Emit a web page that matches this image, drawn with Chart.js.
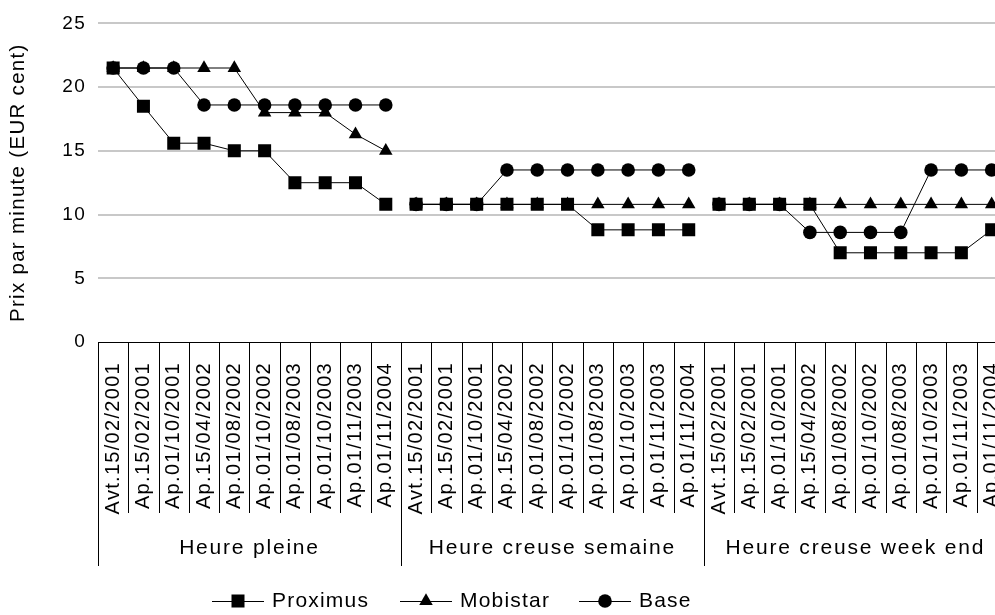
<!DOCTYPE html>
<html lang="fr">
<head>
<meta charset="UTF-8">
<title>Prix par minute</title>
<style>
    html, body { margin: 0; padding: 0; background: #fff; overflow: hidden; }
    #wrap { width: 1016px; height: 615px; }
</style>
</head>
<body>
<div id="wrap"><canvas id="chart" width="1016" height="615"></canvas></div>
<script src="https://cdn.jsdelivr.net/npm/chart.js"></script>
<script>
// dates de changement tarifaire (répétées pour chaque période)
const dates = ['Avt.15/02/2001', 'Ap.15/02/2001', 'Ap.01/10/2001', 'Ap.15/04/2002', 'Ap.01/08/2002',
               'Ap.01/10/2002', 'Ap.01/08/2003', 'Ap.01/10/2003', 'Ap.01/11/2003', 'Ap.01/11/2004'];
const groups = ['Heure pleine', 'Heure creuse semaine', 'Heure creuse week end'];

// prix en EUR cent, 10 valeurs par période
const proximus = [21.5, 18.5, 15.6, 15.6, 15.0, 15.0, 12.5, 12.5, 12.5, 10.8,
                  10.8, 10.8, 10.8, 10.8, 10.8, 10.8, 8.8, 8.8, 8.8, 8.8,
                  10.8, 10.8, 10.8, 10.8, 7.0, 7.0, 7.0, 7.0, 7.0, 8.8];
const mobistar = [21.5, 21.5, 21.5, 21.5, 21.5, 18.0, 18.0, 18.0, 16.3, 15.0,
                  10.8, 10.8, 10.8, 10.8, 10.8, 10.8, 10.8, 10.8, 10.8, 10.8,
                  10.8, 10.8, 10.8, 10.8, 10.8, 10.8, 10.8, 10.8, 10.8, 10.8];
const base     = [21.5, 21.5, 21.5, 18.6, 18.6, 18.6, 18.6, 18.6, 18.6, 18.6,
                  10.8, 10.8, 10.8, 13.5, 13.5, 13.5, 13.5, 13.5, 13.5, 13.5,
                  10.8, 10.8, 10.8, 8.6, 8.6, 8.6, 8.6, 13.5, 13.5, 13.5];

const yTicks = [0, 5, 10, 15, 20, 25];

const labels = groups.flatMap(() => dates);
const perGroup = dates.length;

// pas de trait entre deux périodes
const gap = ctx => ((ctx.p0DataIndex + 1) % perGroup === 0 ? 'rgba(0,0,0,0)' : '#000');

function marker(ctx, style, x, y, r) {
    ctx.beginPath();
    if (style === 'rect') {
        const s = Math.SQRT1_2 * r;
        ctx.rect(x - s, y - s, 2 * s, 2 * s);
    } else if (style === 'triangle') {
        ctx.moveTo(x, y - r);
        ctx.lineTo(x + r * Math.sin(Math.PI / 3), y + r / 2);
        ctx.lineTo(x - r * Math.sin(Math.PI / 3), y + r / 2);
        ctx.closePath();
    } else {
        ctx.arc(x, y, r, 0, Math.PI * 2);
    }
    ctx.fill();
}

const legendItems = [
    { label: 'Proximus', style: 'rect', r: 9.2, x: 212 },
    { label: 'Mobistar', style: 'triangle', r: 7.8, x: 400 },
    { label: 'Base', style: 'circle', r: 6.8, x: 579 }
];

// cadre de l'axe X (séparateurs, noms de période) + légende
const framePlugin = {
    id: 'frame',
    beforeDraw(chart) {
        // texte un peu plus espacé, comme dans l'original
        chart.ctx.letterSpacing = '1.3px';
    },
    afterDraw(chart) {
        const ctx = chart.ctx;
        const x = chart.scales.x;
        const y0 = chart.chartArea.bottom;
        const half = (x.getPixelForValue(1) - x.getPixelForValue(0)) / 2;
        ctx.save();
        ctx.strokeStyle = '#000';
        ctx.lineWidth = 1;
        for (let i = 0; i <= labels.length; i++) {
            const xb = Math.round(i < labels.length ? x.getPixelForValue(i) - half : x.getPixelForValue(i - 1) + half) + 0.5;
            const end = i % perGroup === 0 ? 566 : 513;
            ctx.beginPath();
            ctx.moveTo(xb, y0);
            ctx.lineTo(xb, end);
            ctx.stroke();
        }
        ctx.fillStyle = '#000';
        ctx.font = '21px "Liberation Sans", Arial, sans-serif';
        ctx.letterSpacing = '1.8px';
        ctx.textAlign = 'center';
        ctx.textBaseline = 'middle';
        groups.forEach((g, k) => {
            const a = x.getPixelForValue(k * perGroup) - half;
            const b = x.getPixelForValue((k + 1) * perGroup - 1) + half;
            ctx.fillText(g, (a + b) / 2, 548);
        });

        const ly = 601;
        ctx.letterSpacing = '1.2px';
        ctx.textAlign = 'left';
        legendItems.forEach(it => {
            ctx.beginPath();
            ctx.moveTo(it.x, ly + 0.5);
            ctx.lineTo(it.x + 52, ly + 0.5);
            ctx.stroke();
            marker(ctx, it.style, it.x + 26, ly, it.r);
            ctx.fillText(it.label, it.x + 60, ly);
        });
        ctx.restore();
    }
};

const ds = (label, data, style, r, order) => ({
    label: label,
    data: data,
    borderColor: '#000',
    borderWidth: 1,
    pointStyle: style,
    pointRadius: r,
    pointHoverRadius: r,
    pointBackgroundColor: '#000',
    pointBorderColor: '#000',
    pointBorderWidth: 0,
    tension: 0,
    order: order,
    segment: { borderColor: gap }
});

new Chart(document.getElementById('chart'), {
    type: 'line',
    data: {
        labels: labels,
        datasets: [
            ds('Proximus', proximus, 'rect', 9.2, 0),
            ds('Mobistar', mobistar, 'triangle', 7.8, 2),
            ds('Base', base, 'circle', 6.8, 1)
        ]
    },
    options: {
        responsive: false,
        animation: false,
        layout: { padding: { top: 22, right: 0, left: 0, bottom: 0 } },
        plugins: {
            legend: { display: false },
            tooltip: { enabled: false }
        },
        scales: {
            x: {
                offset: true,
                grid: { display: false, drawTicks: false },
                border: { display: true, color: '#000', width: 1 },
                ticks: {
                    autoSkip: false,
                    minRotation: 90,
                    maxRotation: 90,
                    padding: 20,
                    color: '#000',
                    font: { family: '"Liberation Sans", Arial, sans-serif', size: 20 }
                },
                afterFit: s => { s.height = 273; s.paddingLeft = 0; s.paddingRight = 0; }
            },
            y: {
                min: 0,
                max: 25,
                afterBuildTicks: s => { s.ticks = yTicks.map(v => ({ value: v })); },
                grid: {
                    color: c => (c.tick && c.tick.value === 0 ? 'rgba(0,0,0,0)' : '#c8c8c8'),
                    lineWidth: 2,
                    drawTicks: false
                },
                border: { display: false },
                ticks: {
                    padding: 12,
                    color: '#000',
                    font: { family: '"Liberation Sans", Arial, sans-serif', size: 19 }
                },
                title: {
                    display: true,
                    text: 'Prix par minute (EUR cent)',
                    color: '#000',
                    padding: { top: 6, bottom: 0 },
                    font: { family: '"Liberation Sans", Arial, sans-serif', size: 20.5 }
                },
                afterFit: s => { s.width = 98; }
            }
        }
    },
    plugins: [framePlugin]
});
</script>
</body>
</html>
